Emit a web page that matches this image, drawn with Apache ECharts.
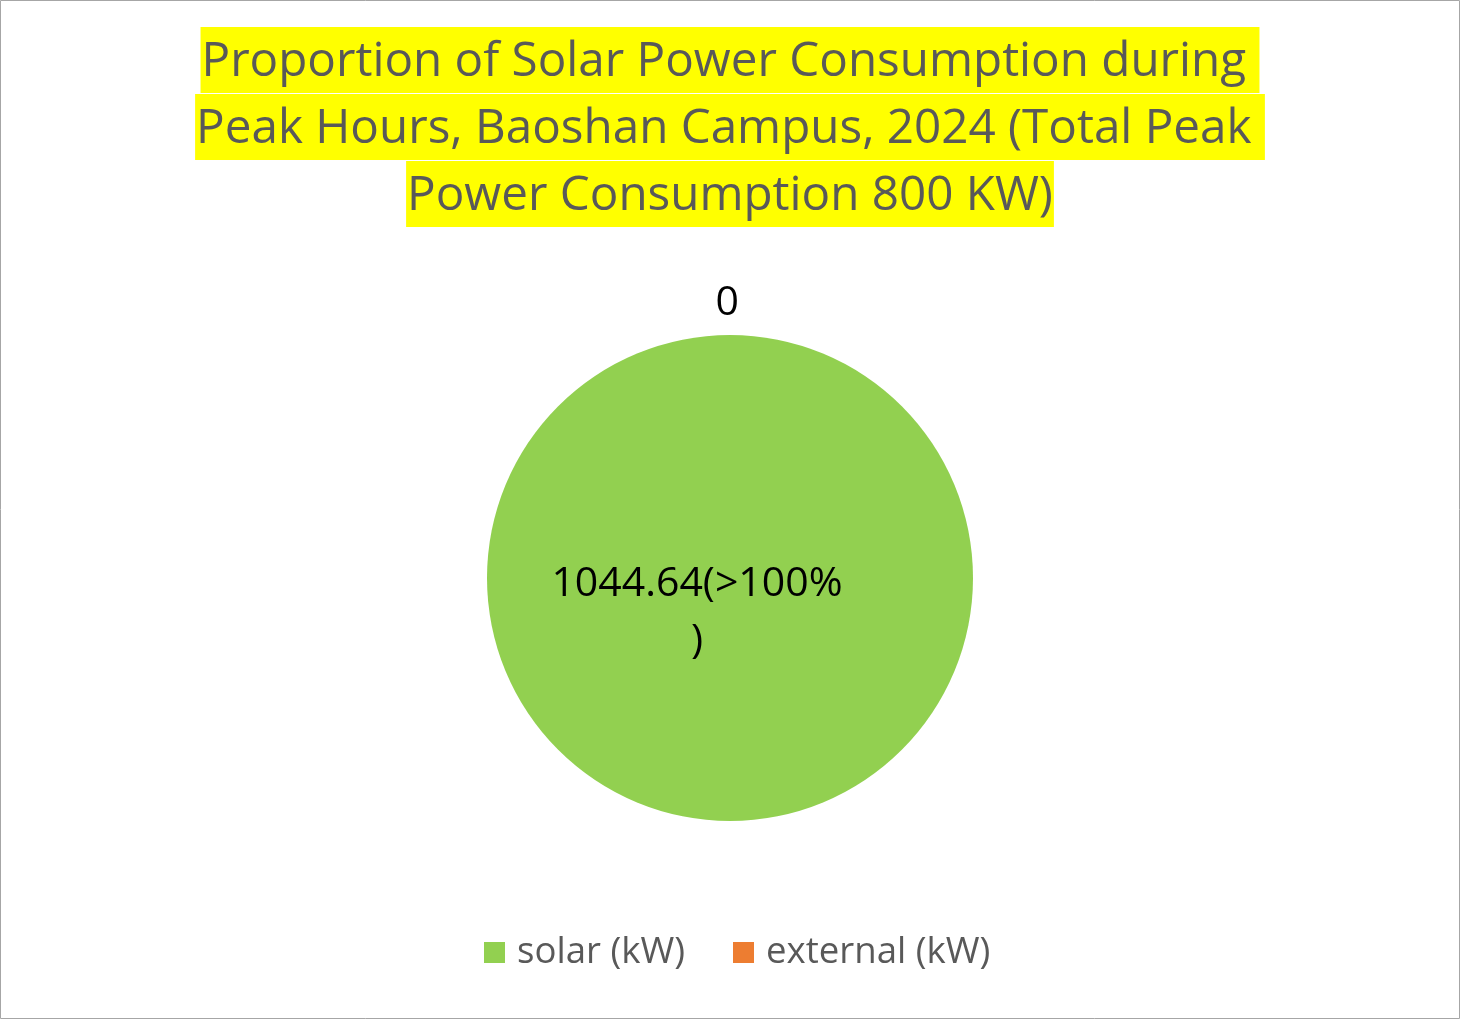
<!DOCTYPE html>
<html>
<head>
<meta charset="utf-8">
<style>
html,body{margin:0;padding:0;background:#fff;}
#chart{width:1460px;height:1019px;}
</style>
<script src="https://cdn.jsdelivr.net/npm/echarts@6/dist/echarts.min.js"></script>
</head>
<body>
<div id="chart"></div>
<script>
const titleLines = [
  'Proportion of Solar Power Consumption during ',
  'Peak Hours, Baoshan Campus, 2024 (Total Peak ',
  'Power Consumption 800 KW)'
];
const categories = ['solar (kW)', 'external (kW)'];
const values = [1044.64, 0];
const labelTexts = ['{pad|}\n1044.64(>100%\n)', '0'];
const colors = ['#92D050', '#ED7D31'];

const FONT = 'Open Sans';
const chart = echarts.init(document.getElementById('chart'));

const titles = titleLines.map((t, i) => ({
  text: t,
  left: 'center',
  top: 27 + i * 67,
  padding: [4, 1, 0, 1],
  backgroundColor: '#FFFF00',
  textStyle: {
    fontFamily: FONT,
    fontSize: 47.6,
    fontWeight: 'normal',
    color: '#595959',
    lineHeight: 62
  }
}));

const data = categories.map((c, i) => {
  const d = { name: c, value: values[i], itemStyle: { color: colors[i] } };
  if (i === 0) {
    d.label = {
      position: 'center',
      formatter: labelTexts[i],
      padding: [0, 66, 0, 0],
      lineHeight: 57,
      rich: { pad: { height: 70, lineHeight: 70 } }
    };
  } else {
    d.label = {
      position: 'outside',
      formatter: labelTexts[i]
    };
    d.labelLine = { show: false, length: 32, length2: -14 };
  }
  return d;
});

chart.setOption({
  animation: false,
  title: titles,
  legend: {
    bottom: 43,
    left: 479,
    itemWidth: 21,
    itemHeight: 21,
    itemGap: 48,
    icon: 'rect',
    data: categories,
    textStyle: {
      fontFamily: FONT,
      fontSize: 36.6,
      color: '#595959',
      padding: [0, 0, 0, 7]
    }
  },
  graphic: [{
    type: 'rect',
    shape: { x: 0.5, y: 0.5, width: 1459, height: 1018 },
    style: { fill: 'none', stroke: '#a6a6a6', lineWidth: 1 },
    silent: true
  }],
  series: [{
    type: 'pie',
    center: [730, 578],
    radius: 243,
    startAngle: 90,
    clockwise: true,
    avoidLabelOverlap: false,
    stillShowZeroSum: true,
    label: {
      fontFamily: FONT,
      fontSize: 41,
      color: '#000000'
    },
    labelLine: { show: false },
    emphasis: { disabled: true },
    data: data
  }]
});
</script>
</body>
</html>
